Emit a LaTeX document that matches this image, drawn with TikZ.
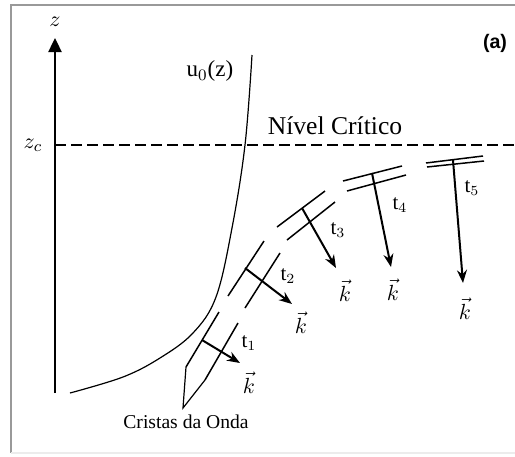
\documentclass[tikz,border=0pt]{standalone}
\usepackage{fontspec}
\setmainfont{Liberation Serif}
\newfontfamily\panelfont{Liberation Sans}
\usetikzlibrary{arrows.meta}

\tikzset{
  crest/.style={line width=0.75pt},
  wavevec/.style={line width=1pt,-{Stealth[length=6.5pt,width=5pt]}},
  tlab/.style={font=\fontsize{10.5}{12}\selectfont,inner sep=0pt},
  klab/.style={font=\fontsize{11}{13}\selectfont,inner sep=0pt}
}

\begin{document}
\begin{tikzpicture}[x=0.5pt,y=-0.5pt]
\useasboundingbox (0,0) rectangle (515,456);
% frame
\draw[gray!80,line width=1pt] (515,5) -- (11,5) -- (11,453);
\draw[gray!15,line width=0.6pt] (11,453) -- (515,453);
% z axis and critical level
\coordinate (zbot) at (55,393);
\coordinate (ztop) at (55,38);
\coordinate (zc) at (55,145);
\coordinate (zcend) at (515,145);
\draw[line width=1.2pt,-{Triangle[length=7pt,width=6.5pt]}] (zbot) -- (ztop);
\draw[dashed,line width=1.3pt,dash pattern=on 5.5pt off 2.5pt] (zc) -- (zcend);
\node (zlab) at (55,22) {\fontsize{11}{13}\selectfont$z$};
\node (zclab) at (33,145) {\fontsize{11}{13}\selectfont$z_c$};
\node (nivel) at (335,126) {\fontsize{12.8}{15}\selectfont N\'ivel Cr\'itico};
\node (panel) at (495,43) {\panelfont\bfseries\fontsize{9.8}{12}\selectfont (a)};
% mean wind profile
\draw[line width=0.6pt] plot[smooth,tension=0.6] coordinates {(70,393) (123,377) (160,358) (193,333) (216,297) (232,228) (245,145) (252,55)};
\node (ulab) at (210,71) {\fontsize{11.5}{14}\selectfont u$_0$(z)};
% wave crests
\draw[crest] (186,367) coordinate (c1a) -- (219,312);
\draw[crest] (205,380) coordinate (c1b) -- (238,323);
\draw[crest] (228,296) -- (264,241);
\draw[crest] (245,308) -- (280,253);
\draw[crest] (277,227) -- (325,191);
\draw[crest] (287,240) -- (335,202);
\draw[crest] (343,181) -- (402,166);
\draw[crest] (347,191) -- (406,175);
\draw[crest] (426,163) -- (483,156);
\draw[crest] (427,167) -- (484,161);
% wave vectors
\coordinate (k1s) at (202,340); \coordinate (k1e) at (240,363);
\coordinate (k2s) at (245,268); \coordinate (k2e) at (292,304);
\coordinate (k3s) at (302,208); \coordinate (k3e) at (336,268);
\coordinate (k4s) at (372,173); \coordinate (k4e) at (391,267);
\coordinate (k5s) at (453,160); \coordinate (k5e) at (463,283);
\draw[wavevec] (k1s) -- (k1e);
\draw[wavevec] (k2s) -- (k2e);
\draw[wavevec] (k3s) -- (k3e);
\draw[wavevec] (k4s) -- (k4e);
\draw[wavevec] (k5s) -- (k5e);
\node[tlab] (t1) at (249,343) {t$_1$};
\node[tlab] (t2) at (288,276) {t$_2$};
\node[tlab] (t3) at (338,230) {t$_3$};
\node[tlab] (t4) at (400,205) {t$_4$};
\node[tlab] (t5) at (472,188) {t$_5$};
\node[klab] (kv1) at (249,383) {$\vec{k}$};
\node[klab] (kv2) at (301,323) {$\vec{k}$};
\node[klab] (kv3) at (345,291) {$\vec{k}$};
\node[klab] (kv4) at (393,290) {$\vec{k}$};
\node[klab] (kv5) at (465,309) {$\vec{k}$};
% label for the crests
\coordinate (vtip) at (183,408);
\draw[line width=0.6pt] (c1a) -- (vtip) -- (c1b);
\node (cristas) at (186,422) {\fontsize{9.8}{12}\selectfont Cristas da Onda};
\end{tikzpicture}
\end{document}
